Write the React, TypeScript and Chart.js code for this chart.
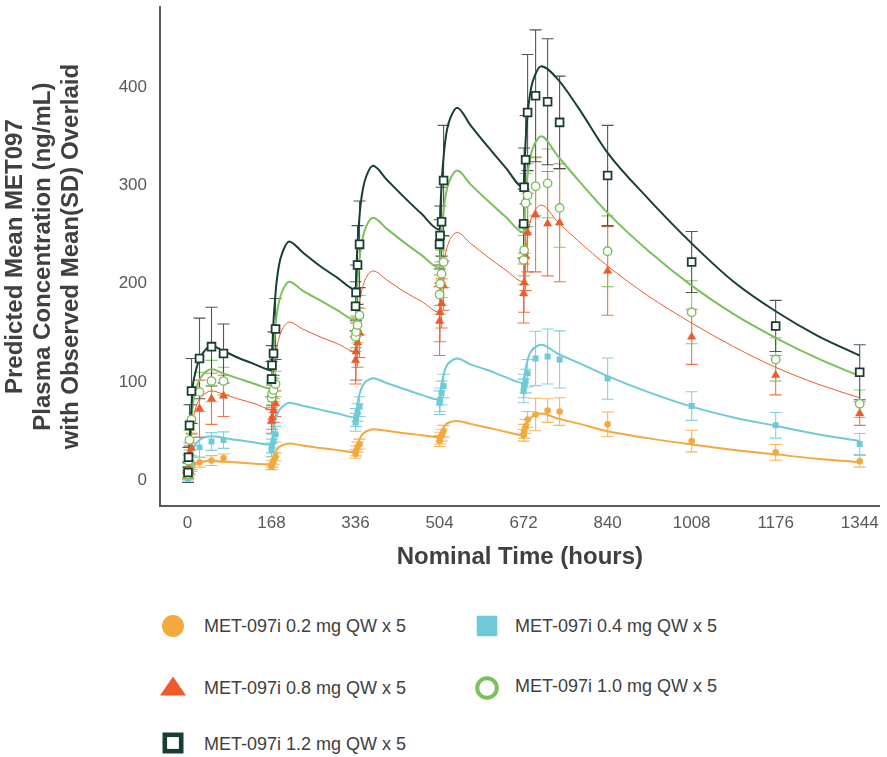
import React, { useEffect, useRef } from "react";
import { Chart, registerables } from "chart.js";

Chart.register(...registerables);

const FONT = "'Liberation Sans', Arial, Helvetica, sans-serif";

// ---------- predicted curves (time grid shared by all dose groups) ----------
const predTimes = [
  0, 2, 4, 7, 10, 15, 22, 30, 48, 70, 100, 135,
  168, 170, 172, 175, 178, 183, 190, 203, 230, 265, 300,
  336, 338, 340, 343, 346, 351, 358, 371, 398, 433, 468,
  504, 506, 508, 511, 514, 519, 526, 539, 566, 601, 636,
  672, 674, 676, 679, 682, 687, 694, 707, 740, 780, 840, 920, 1008, 1092, 1176, 1260, 1344,
];

const pred02 = [
  0, 2, 5, 9, 13, 16, 18, 19, 20, 19.3, 18.2, 17,
  16, 20, 24, 28, 31, 34, 36, 37.6, 35.5, 33, 30.8,
  28.5, 33, 37, 41, 44, 47.5, 50, 52, 50.5, 48, 46,
  44, 47, 50, 53, 55.5, 58, 59.5, 60.5, 57.5, 53.5, 49.5,
  46, 50.5, 54, 58, 61, 64, 66.5, 68, 63, 58, 50, 43, 36.5, 31, 26.5, 22, 18.5,
];
const pred04 = [
  0, 4, 10, 20, 29, 36, 40, 43, 45, 43.5, 41, 38.5,
  36, 45, 52, 60, 65, 71, 75, 79, 76, 72, 68,
  64, 72, 79, 86, 91, 97, 101, 104, 99, 93, 87,
  82, 90, 98, 105, 111, 117, 121, 124, 118, 112, 105,
  99, 107, 114, 120, 126, 131, 135, 138, 129, 120, 106, 90, 75, 64, 55.5, 47, 40,
];
const pred08 = [
  0, 8, 21, 41, 58, 71, 81, 86, 91, 88, 83, 78,
  72, 90, 106, 121, 133, 145, 154, 161, 154, 146, 139,
  131, 147, 162, 176, 187, 198, 207, 213, 204, 192, 182,
  171, 187, 202, 216, 226, 237, 246, 252, 241, 227, 214,
  202, 218, 232, 245, 255, 266, 274, 280, 263, 244, 218, 188, 160, 136, 115, 98, 84,
];
const pred10 = [
  0, 11, 27, 52, 74, 89, 100, 107, 113, 109, 104, 98,
  93, 115, 134, 153, 167, 182, 193, 202, 193, 183, 173,
  163, 184, 203, 220, 234, 248, 259, 267, 256, 242, 229,
  216, 236, 254, 270, 283, 297, 307, 315, 301, 284, 268,
  252, 272, 289, 306, 319, 332, 342, 350, 330, 306, 272, 234, 198, 169, 145, 124, 106,
];
const pred12 = [
  0, 14, 33, 65, 93, 108, 121, 129, 137, 132, 125, 118,
  112, 138, 162, 184, 201, 219, 232, 243, 232, 218, 206,
  194, 219, 242, 263, 280, 297, 310, 320, 306, 288, 271,
  255, 280, 302, 323, 339, 357, 369, 379, 361, 339, 318,
  298, 323, 345, 366, 382, 399, 411, 421, 408, 380, 333, 287, 241, 202, 172, 147, 127,
];

// ---------- observed mean (SD) ----------
const obsTimes = [
  1, 2, 4, 8, 24, 48, 72,
  168, 169, 172, 176,
  336, 337, 340, 344,
  504, 505, 508, 512,
  672, 673, 676, 680, 696, 720, 744, 840, 1008, 1176, 1344,
];

const obs02Mean = [2, 4, 8, 13, 18.5, 20.2, 22.8, 14, 17, 20, 24, 27, 30, 34, 37, 40, 43, 46, 50, 46, 50, 55, 62, 67, 71, 70, 57, 40, 28.5, 19.5];
const obs02Sd = [1, 2, 3, 4, 5, 5, 4, 3, 3.5, 4, 4, 4.5, 5, 5, 5, 5.5, 6, 6, 6, 6, 7, 7, 8, 16.5, 12, 14, 12.6, 11, 8, 6];

const obs04Mean = [2, 6, 12, 18, 33.6, 39.6, 41, 31, 35, 40, 47, 59, 64, 69, 75, 79, 82, 89, 96, 91, 96, 101, 109, 124, 126, 123, 103.5, 75.6, 56, 37];
const obs04Sd = [1.5, 3, 5, 7, 10, 9, 8.4, 7, 7, 7, 8, 9, 9, 9, 10, 12, 12, 12, 12, 12, 12, 12, 14, 27.6, 28, 29, 21, 14.5, 13, 10.7];

const obs08Mean = [5, 13, 28, 33, 73, 83, 86, 60, 64, 71, 78, 122, 131, 140, 150, 162, 171, 180, 198, 190, 201, 228, 252, 270, 261, 262, 213, 146, 107, 68];
const obs08Sd = [3, 6, 10, 15, 29, 26, 21, 12, 12, 12, 13, 24, 29, 25, 25, 35, 30, 25, 25, 30, 30, 35, 40, 58, 53, 60, 45, 28, 20, 12];

const obs10Mean = [6, 20, 41, 62, 90, 101, 101, 84, 88, 92, 98, 146, 151, 158, 168, 189, 200, 210, 222, 224, 234, 282, 290, 299, 302, 277, 233, 171, 123, 78];
const obs10Sd = [4, 6, 10, 15, 20, 21, 14, 10, 11, 12, 13, 15, 16, 18, 20, 20, 22, 24, 26, 25, 26, 30, 32, 30, 35, 40, 36, 32, 22, 14];

const obs12Mean = [8, 23.5, 56, 91, 124, 136, 129, 103, 117, 129, 154, 177, 191, 219, 240, 240, 249, 263, 305, 261, 298, 326, 374, 391, 385, 364, 310, 222, 157, 110];
const obs12Sd = [10, 10, 21, 33, 41, 40, 30, 18, 20, 22, 31, 25, 28, 40, 44, 25, 30, 35, 56, 35, 40, 45, 59, 67, 64, 47, 51, 31, 26, 28];

const seriesLabels = [
  "MET-097i 0.2 mg QW x 5",
  "MET-097i 0.4 mg QW x 5",
  "MET-097i 0.8 mg QW x 5",
  "MET-097i 1.0 mg QW x 5",
  "MET-097i 1.2 mg QW x 5",
];

const xTickValues = [0, 168, 336, 504, 672, 840, 1008, 1176, 1344];
const yTickValues = [0, 100, 200, 300, 400];

const C_ORANGE = "#F4A93C";
const C_CYAN = "#6FCAD8";
const C_RED = "#EE5A2B";
const C_GREEN = "#7CC05B";
const C_DARK = "#1A3E31";

const toPts = (xs: number[], ys: number[]) => xs.map((x, i) => ({ x, y: ys[i] }));

const errorBarPlugin = {
  id: "errorBars",
  beforeDatasetsDraw(chart: any) {
    const ctx = chart.ctx;
    const xs = chart.scales.x;
    const ys = chart.scales.y;
    const area = chart.chartArea;
    ctx.save();
    ctx.beginPath();
    ctx.rect(area.left, area.top, area.right - area.left, area.bottom - area.top);
    ctx.clip();
    for (let i = chart.data.datasets.length - 1; i >= 0; i--) {
      const ds: any = chart.data.datasets[i];
      if (!ds.sd) continue;
      ctx.strokeStyle = ds.errorColor;
      ctx.lineWidth = 1.1;
      const cap = 6;
      ds.data.forEach((p: any, j: number) => {
        const x = xs.getPixelForValue(p.x);
        const y1 = ys.getPixelForValue(p.y + ds.sd[j]);
        const y2 = ys.getPixelForValue(p.y - ds.sd[j]);
        ctx.beginPath();
        ctx.moveTo(x, y1);
        ctx.lineTo(x, y2);
        ctx.moveTo(x - cap, y1);
        ctx.lineTo(x + cap, y1);
        ctx.moveTo(x - cap, y2);
        ctx.lineTo(x + cap, y2);
        ctx.stroke();
      });
    }
    ctx.restore();
  },
};

function LegendMarker({ kind, color }: { kind: string; color: string }) {
  const s = 30;
  let shape: React.ReactNode = null;
  if (kind === "dot") shape = <circle cx={15} cy={15} r={11} fill={color} />;
  if (kind === "square") shape = <rect x={4.75} y={4.75} width={20.5} height={20.5} fill={color} />;
  if (kind === "triangle") shape = <polygon points="2,24.5 28,24.5 15,5.5" fill={color} />;
  if (kind === "ring") shape = <circle cx={15} cy={15} r={9.8} fill="#fff" stroke={color} strokeWidth={4} />;
  if (kind === "box") shape = <rect x={6.8} y={6.8} width={16.4} height={16.4} fill="#fff" stroke={color} strokeWidth={4.6} />;
  return (
    <svg width={s} height={s} style={{ position: "absolute", left: -15, top: -15 }}>
      {shape}
    </svg>
  );
}

function LegendItem({ mx, my, tx, ty, kind, color, label }: any) {
  return (
    <>
      <div style={{ position: "absolute", left: mx, top: my, width: 0, height: 0 }}>
        <LegendMarker kind={kind} color={color} />
      </div>
      <div
        style={{
          position: "absolute",
          left: tx,
          top: ty,
          transform: "translateY(-50%)",
          fontFamily: FONT,
          fontSize: 18,
          lineHeight: "22px",
          color: "#404040",
          whiteSpace: "nowrap",
        }}
      >
        {label}
      </div>
    </>
  );
}

export default function App() {
  const canvasRef = useRef<HTMLCanvasElement | null>(null);

  useEffect(() => {
    const canvas = canvasRef.current;
    if (!canvas) return;

    const scatter = (label: string, mean: number[], sd: number[], style: any) => ({
      label,
      data: toPts(obsTimes, mean),
      sd,
      showLine: false,
      ...style,
    });
    const curve = (label: string, vals: number[], color: string, width: number) => ({
      label,
      data: toPts(predTimes, vals),
      showLine: true,
      pointRadius: 0,
      borderColor: color,
      borderWidth: width,
      backgroundColor: color,
      cubicInterpolationMode: "monotone",
      fill: false,
    });

    const datasets: any[] = [
      scatter(seriesLabels[4], obs12Mean, obs12Sd, {
        pointStyle: "rect", pointRadius: 5.5, borderWidth: 1.8, borderColor: C_DARK,
        backgroundColor: "#ffffff", errorColor: "rgba(40,62,55,0.85)",
      }),
      scatter(seriesLabels[3], obs10Mean, obs10Sd, {
        pointStyle: "circle", pointRadius: 4.2, borderWidth: 1.4, borderColor: C_GREEN,
        backgroundColor: "#ffffff", errorColor: "rgba(124,192,91,0.85)",
      }),
      scatter(seriesLabels[2], obs08Mean, obs08Sd, {
        pointStyle: "triangle", pointRadius: 4.8, borderWidth: 0.5, borderColor: C_RED,
        backgroundColor: C_RED, errorColor: "rgba(238,90,43,0.85)",
      }),
      scatter(seriesLabels[1], obs04Mean, obs04Sd, {
        pointStyle: "rect", pointRadius: 4.2, borderWidth: 0, borderColor: C_CYAN,
        backgroundColor: C_CYAN, errorColor: "rgba(111,202,216,0.85)",
      }),
      scatter(seriesLabels[0], obs02Mean, obs02Sd, {
        pointStyle: "circle", pointRadius: 3.3, borderWidth: 0, borderColor: C_ORANGE,
        backgroundColor: C_ORANGE, errorColor: "rgba(244,169,60,0.85)",
      }),
      curve(seriesLabels[4] + " predicted", pred12, C_DARK, 2),
      curve(seriesLabels[3] + " predicted", pred10, C_GREEN, 2),
      curve(seriesLabels[2] + " predicted", pred08, C_RED, 1),
      curve(seriesLabels[1] + " predicted", pred04, C_CYAN, 2),
      curve(seriesLabels[0] + " predicted", pred02, C_ORANGE, 2),
    ];

    const tickFont = { family: FONT, size: 17 };
    const chart = new Chart(canvas, {
      type: "scatter",
      data: { datasets },
      options: {
        animation: false,
        responsive: false,
        layout: { padding: { top: 3, right: 2, left: 0, bottom: 0 } },
        plugins: { legend: { display: false }, tooltip: { enabled: false }, title: { display: false } },
        scales: {
          x: {
            type: "linear",
            min: -55,
            max: 1384,
            grid: { display: false, drawTicks: false },
            border: { display: true, color: "#5a5a5a", width: 2 },
            ticks: { font: tickFont, color: "#595959", padding: 7, callback: (v: any) => String(v) },
            afterBuildTicks: (s: any) => {
              s.ticks = xTickValues.map((v) => ({ value: v }));
            },
            afterFit: (s: any) => {
              s.height = 69;
              s.paddingLeft = 0;
              s.paddingRight = 0;
            },
            title: {
              display: true,
              text: "Nominal Time (hours)",
              color: "#404040",
              font: { family: FONT, size: 24, weight: "bold" },
              padding: { top: 0, bottom: 3 },
            },
          },
          y: {
            type: "linear",
            min: -26,
            max: 481,
            grid: { display: false, drawTicks: false },
            border: { display: true, color: "#5a5a5a", width: 2 },
            ticks: { font: tickFont, color: "#595959", padding: 13, callback: (v: any) => String(v) },
            afterBuildTicks: (s: any) => {
              s.ticks = yTickValues.map((v) => ({ value: v }));
            },
            afterFit: (s: any) => {
              s.width = 160;
              s.paddingTop = 0;
              s.paddingBottom = 0;
            },
            title: {
              display: true,
              text: [
                "Predicted Mean MET097",
                "Plasma Concentration (ng/mL)",
                "with Observed Mean(SD) Overlaid",
              ],
              color: "#404040",
              font: { family: FONT, size: 24, weight: "bold", lineHeight: 1.1667 },
              padding: { top: 1, bottom: 0 },
            },
          },
        },
      } as any,
      plugins: [errorBarPlugin],
    });

    return () => chart.destroy();
  }, []);

  return (
    <div style={{ position: "fixed", left: 0, top: 0, width: 887, height: 757, background: "#ffffff", overflow: "hidden" }}>
      <canvas ref={canvasRef} width={887} height={575} style={{ display: "block", width: 887, height: 575 }} />
      <LegendItem mx={173.3} my={626} tx={204} ty={626} kind="dot" color={C_ORANGE} label={seriesLabels[0]} />
      <LegendItem mx={486.5} my={626} tx={515} ty={626} kind="square" color={C_CYAN} label={seriesLabels[1]} />
      <LegendItem mx={173.3} my={686} tx={204} ty={688} kind="triangle" color={C_RED} label={seriesLabels[2]} />
      <LegendItem mx={486.7} my={688} tx={515} ty={686} kind="ring" color={C_GREEN} label={seriesLabels[3]} />
      <LegendItem mx={173.3} my={742.7} tx={204} ty={744} kind="box" color={C_DARK} label={seriesLabels[4]} />
    </div>
  );
}
